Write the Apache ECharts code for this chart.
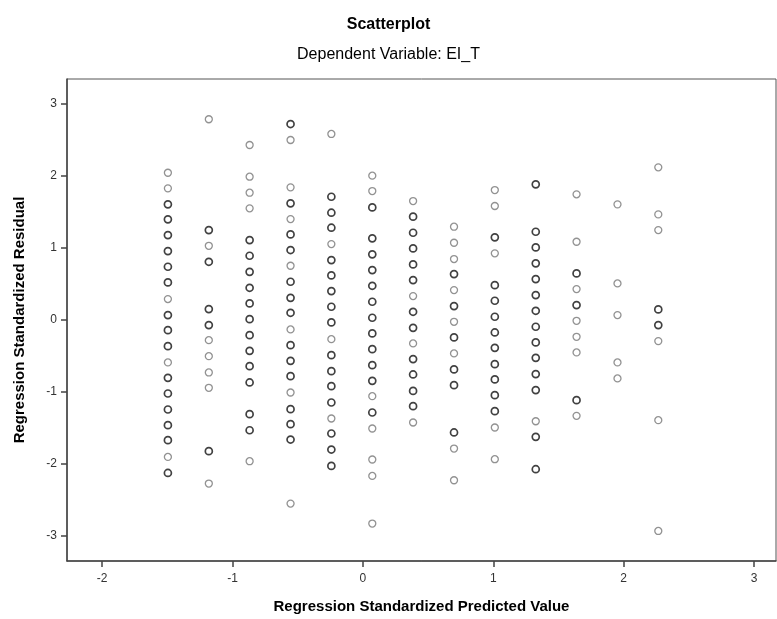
<!DOCTYPE html>
<html>
<head>
<meta charset="utf-8">
<script src="https://cdn.jsdelivr.net/npm/echarts@6/dist/echarts.min.js"></script>
<style>html,body{margin:0;padding:0;background:#fff}#c{width:777px;height:619px}</style>
</head>
<body>
<div id="c"></div>
<script>
// Predicted value of each column of points
const columnX = [-1.496, -1.182, -0.869, -0.555, -0.242, 0.072, 0.385, 0.699, 1.012, 1.326, 1.639, 1.953, 2.266];
// Standardized residuals in each column
const columnY = [
  [2.036, 1.819, 1.597, 1.389, 1.171, 0.949, 0.731, 0.514, 0.282, 0.060, -0.149, -0.371, -0.597, -0.811, -1.028, -1.250, -1.468, -1.676, -1.908, -2.131],
  [2.778, 1.240, 1.022, 0.800, 0.143, -0.079, -0.288, -0.510, -0.736, -0.949, -1.829, -2.278],
  [2.421, 1.981, 1.759, 1.542, 1.101, 0.884, 0.661, 0.439, 0.222, 0.004, -0.218, -0.436, -0.649, -0.875, -1.315, -1.538, -1.968],
  [2.712, 2.490, 1.833, 1.611, 1.393, 1.180, 0.963, 0.745, 0.523, 0.300, 0.092, -0.139, -0.357, -0.575, -0.788, -1.014, -1.246, -1.454, -1.667, -2.556],
  [2.574, 1.703, 1.481, 1.273, 1.046, 0.824, 0.611, 0.393, 0.176, -0.042, -0.274, -0.496, -0.718, -0.926, -1.153, -1.375, -1.583, -1.806, -2.033],
  [1.995, 1.782, 1.555, 1.125, 0.903, 0.685, 0.467, 0.245, 0.023, -0.194, -0.413, -0.635, -0.852, -1.065, -1.292, -1.514, -1.944, -2.172, -2.833],
  [1.643, 1.426, 1.203, 0.986, 0.764, 0.546, 0.324, 0.106, -0.117, -0.333, -0.551, -0.764, -0.992, -1.204, -1.431],
  [1.287, 1.064, 0.838, 0.629, 0.407, 0.185, -0.033, -0.250, -0.472, -0.694, -0.912, -1.569, -1.792, -2.232],
  [1.796, 1.574, 1.139, 0.917, 0.476, 0.259, 0.037, -0.181, -0.394, -0.621, -0.833, -1.051, -1.273, -1.500, -1.940],
  [1.875, 1.217, 1.000, 0.778, 0.560, 0.338, 0.120, -0.102, -0.319, -0.533, -0.759, -0.981, -1.413, -1.630, -2.079],
  [1.736, 1.078, 0.639, 0.421, 0.199, -0.019, -0.241, -0.458, -1.121, -1.338],
  [1.597, 0.500, 0.060, -0.597, -0.819],
  [2.111, 1.458, 1.240, 0.139, -0.079, -0.301, -1.398, -2.936]
];
// Number of overlapping cases at each point (1 = single, 2 = several)
const columnN = [
  [1,1,2,2,2,2,2,2,1,2,2,2,1,2,2,2,2,2,1,2],
  [1,2,1,2,2,2,1,1,1,1,2,1],
  [1,1,1,1,2,2,2,2,2,2,2,2,2,2,2,2,1],
  [2,1,1,2,1,2,2,1,2,2,2,1,2,2,2,1,2,2,2,1],
  [1,2,2,2,1,2,2,2,2,2,1,2,2,2,2,1,2,2,2],
  [1,1,2,2,2,2,2,2,2,2,2,2,2,1,2,1,1,1,1],
  [1,2,2,2,2,2,1,2,2,1,2,2,2,2,1],
  [1,1,1,2,1,2,1,2,1,2,2,2,1,1],
  [1,1,2,1,2,2,2,2,2,2,2,2,2,1,1],
  [2,2,2,2,2,2,2,2,2,2,2,2,1,2,2],
  [1,1,2,1,2,1,1,1,2,1],
  [1,1,1,1,1],
  [1,1,1,2,2,1,1,1]
];
const xTicks = [-2, -1, 0, 1, 2, 3];
const yTicks = [-3, -2, -1, 0, 1, 2, 3];

const points = [];
columnX.forEach((x, i) => {
  columnY[i].forEach((y, j) => {
    const n = columnN[i][j];
    points.push({
      value: [x, y],
      itemStyle: { borderColor: n > 1 ? '#111' : '#777', borderWidth: n > 1 ? 1.7 : 1.3 }
    });
  });
});

const FONT = '"Liberation Sans", Arial, sans-serif';
const chart = echarts.init(document.getElementById('c'), null, { renderer: 'canvas' });
chart.setOption({
  animation: false,
  backgroundColor: '#fff',
  title: [
    { text: 'Scatterplot', left: 'center', top: 12, textStyle: { fontFamily: FONT, fontSize: 16, fontWeight: 'bold', color: '#000' } },
    { text: 'Dependent Variable: EI_T', left: 'center', top: 42, textStyle: { fontFamily: FONT, fontSize: 16, fontWeight: 'normal', color: '#000' } }
  ],
  grid: { left: 67, right: 1, top: 79, bottom: 58, containLabel: false, show: true, borderColor: '#555', borderWidth: 1 },
  xAxis: {
    type: 'value', min: -2.27, max: 3.169,
    name: 'Regression Standardized Predicted Value', nameLocation: 'middle', nameGap: 38,
    nameTextStyle: { fontFamily: FONT, fontSize: 15, fontWeight: 'bold', color: '#000' },
    axisLine: { show: true, onZero: false, lineStyle: { color: '#444', width: 1.5 } },
    axisTick: { show: true, inside: false, length: 6, customValues: xTicks, lineStyle: { color: '#444', width: 1.5 } },
    axisLabel: { customValues: xTicks, fontFamily: FONT, fontSize: 12, color: '#333', margin: 12 },
    splitLine: { show: false }
  },
  yAxis: {
    type: 'value', min: -3.353, max: 3.337,
    name: 'Regression Standardized Residual', nameLocation: 'middle', nameGap: 40, nameRotate: 90,
    nameTextStyle: { fontFamily: FONT, fontSize: 15, fontWeight: 'bold', color: '#000' },
    axisLine: { show: true, onZero: false, lineStyle: { color: '#444', width: 1.5 } },
    axisTick: { show: true, inside: false, length: 6, customValues: yTicks, lineStyle: { color: '#444', width: 1.5 } },
    axisLabel: { customValues: yTicks, fontFamily: FONT, fontSize: 12, color: '#333', margin: 10 },
    splitLine: { show: false }
  },
  series: [{
    type: 'scatter',
    symbol: 'circle',
    symbolSize: 7,
    itemStyle: { color: 'rgba(0,0,0,0)' },
    data: points
  }]
});
</script>
</body>
</html>
